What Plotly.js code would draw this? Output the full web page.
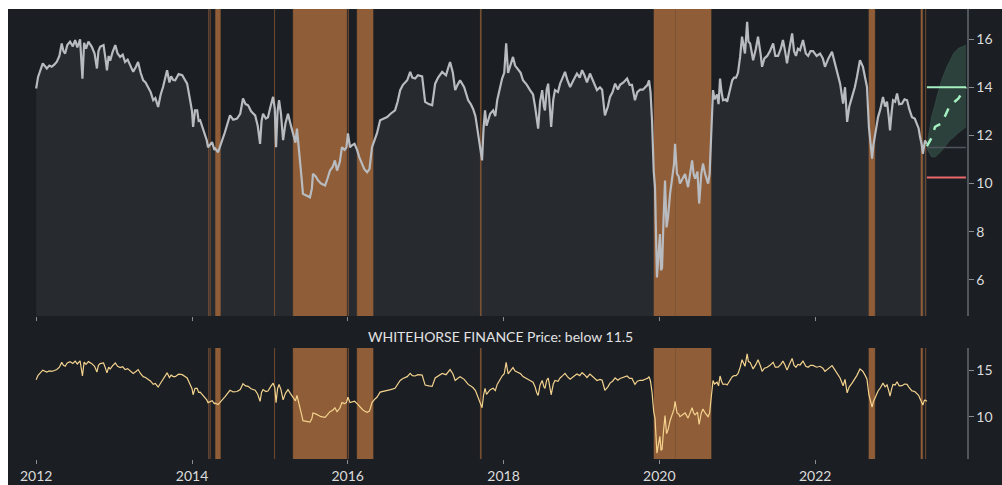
<!DOCTYPE html>
<html><head><meta charset="utf-8">
<script src="https://cdn.plot.ly/plotly-3.0.1.min.js"></script>
<style>html,body{margin:0;padding:0;background:#ffffff;overflow:hidden}#chart{position:absolute;left:8px;top:9px;width:1000px;height:480px}</style>
</head><body><div id="chart"></div>
<script>
// ---------- data (decimal years, price) ----------
const priceYear = [2012.000,2012.026,2012.086,2012.137,2012.170,2012.202,2012.235,2012.266,2012.300,2012.330,2012.350,2012.372,2012.400,2012.436,2012.470,2012.501,2012.530,2012.565,2012.594,2012.616,2012.640,2012.671,2012.715,2012.750,2012.779,2012.800,2012.822,2012.864,2012.890,2012.908,2012.930,2012.950,2012.980,2013.014,2013.045,2013.078,2013.110,2013.142,2013.175,2013.207,2013.245,2013.280,2013.309,2013.340,2013.374,2013.405,2013.438,2013.470,2013.502,2013.530,2013.566,2013.600,2013.630,2013.660,2013.682,2013.710,2013.733,2013.760,2013.784,2013.830,2013.874,2013.910,2013.938,2013.977,2014.000,2014.015,2014.040,2014.067,2014.085,2014.105,2014.140,2014.169,2014.190,2014.208,2014.235,2014.259,2014.290,2014.300,2014.336,2014.360,2014.388,2014.420,2014.452,2014.490,2014.530,2014.580,2014.620,2014.657,2014.690,2014.721,2014.760,2014.811,2014.845,2014.875,2014.895,2014.914,2014.950,2014.978,2015.010,2015.042,2015.065,2015.081,2015.100,2015.119,2015.145,2015.171,2015.200,2015.235,2015.265,2015.299,2015.330,2015.350,2015.370,2015.389,2015.410,2015.427,2015.470,2015.517,2015.540,2015.556,2015.590,2015.620,2015.660,2015.710,2015.740,2015.774,2015.810,2015.838,2015.864,2015.900,2015.928,2015.960,2015.985,2016.005,2016.031,2016.060,2016.090,2016.121,2016.150,2016.185,2016.215,2016.249,2016.280,2016.313,2016.350,2016.377,2016.416,2016.460,2016.506,2016.550,2016.608,2016.640,2016.673,2016.710,2016.763,2016.801,2016.830,2016.865,2016.900,2016.955,2016.994,2017.040,2017.083,2017.122,2017.160,2017.212,2017.263,2017.290,2017.315,2017.350,2017.379,2017.410,2017.443,2017.494,2017.546,2017.580,2017.610,2017.640,2017.674,2017.700,2017.725,2017.745,2017.764,2017.782,2017.802,2017.830,2017.867,2017.895,2017.918,2017.950,2017.982,2018.010,2018.033,2018.059,2018.090,2018.123,2018.150,2018.187,2018.220,2018.252,2018.300,2018.341,2018.380,2018.406,2018.425,2018.444,2018.470,2018.496,2018.520,2018.534,2018.555,2018.573,2018.590,2018.611,2018.640,2018.662,2018.700,2018.727,2018.760,2018.791,2018.820,2018.855,2018.900,2018.945,2018.980,2019.009,2019.040,2019.073,2019.112,2019.150,2019.202,2019.240,2019.266,2019.304,2019.340,2019.368,2019.400,2019.433,2019.470,2019.497,2019.540,2019.587,2019.620,2019.651,2019.689,2019.720,2019.754,2019.790,2019.818,2019.850,2019.869,2019.890,2019.908,2019.930,2019.946,2019.972,2019.990,2020.010,2020.023,2020.036,2020.055,2020.075,2020.095,2020.113,2020.140,2020.164,2020.190,2020.203,2020.228,2020.250,2020.267,2020.300,2020.331,2020.370,2020.400,2020.421,2020.440,2020.460,2020.490,2020.511,2020.540,2020.562,2020.590,2020.626,2020.645,2020.665,2020.691,2020.710,2020.742,2020.760,2020.780,2020.800,2020.819,2020.850,2020.870,2020.900,2020.935,2020.960,2020.986,2021.010,2021.037,2021.063,2021.085,2021.101,2021.127,2021.145,2021.166,2021.204,2021.240,2021.268,2021.300,2021.320,2021.350,2021.384,2021.420,2021.461,2021.490,2021.525,2021.560,2021.589,2021.615,2021.641,2021.670,2021.705,2021.730,2021.756,2021.780,2021.807,2021.846,2021.880,2021.910,2021.940,2021.974,2022.020,2022.064,2022.100,2022.128,2022.170,2022.218,2022.240,2022.257,2022.290,2022.321,2022.359,2022.385,2022.411,2022.440,2022.475,2022.510,2022.539,2022.578,2022.616,2022.645,2022.668,2022.693,2022.710,2022.732,2022.750,2022.770,2022.809,2022.840,2022.873,2022.900,2022.924,2022.950,2022.963,2022.985,2023.001,2023.030,2023.053,2023.080,2023.117,2023.150,2023.181,2023.210,2023.245,2023.280,2023.309,2023.330,2023.348,2023.370,2023.386,2023.400,2023.412,2023.438];
const priceValue = [13.95,14.43,14.99,14.78,14.90,14.85,14.95,15.06,15.30,15.82,15.50,15.40,15.75,15.89,15.70,15.96,15.65,15.99,14.36,15.85,15.60,15.90,15.68,15.40,14.78,15.50,15.68,15.75,15.20,14.70,15.30,15.10,15.45,15.75,15.40,15.26,15.35,15.05,15.15,14.92,14.64,14.85,15.05,14.60,14.29,14.20,14.01,13.80,13.46,13.55,13.18,13.70,14.01,14.40,14.71,14.20,14.45,14.30,14.29,14.55,14.50,14.30,14.15,13.46,13.00,12.35,13.04,13.04,12.60,12.63,12.30,12.08,11.80,11.51,11.60,11.72,11.40,11.45,11.30,11.50,11.79,12.10,12.42,12.83,12.65,12.70,12.90,13.53,13.30,13.25,13.00,12.83,12.40,11.65,12.60,12.90,12.70,12.75,13.20,13.60,13.10,11.51,13.00,13.46,12.90,11.80,12.50,12.90,12.50,12.08,11.70,12.28,11.60,10.96,10.20,9.58,9.50,9.43,9.80,10.40,10.30,10.13,10.00,9.92,10.20,10.54,10.70,10.96,10.54,10.90,11.51,11.40,11.50,12.08,11.51,11.60,11.65,11.40,11.10,10.83,10.60,10.47,10.60,11.51,11.90,12.08,12.63,12.70,12.76,12.90,13.04,13.40,13.88,14.10,14.29,14.64,14.40,14.36,14.50,14.45,13.39,13.30,13.25,14.15,14.40,14.64,14.50,14.80,15.05,14.60,13.88,14.10,14.29,14.00,13.46,13.30,13.10,12.80,12.08,11.50,10.96,12.30,13.04,12.40,12.60,12.90,13.04,12.80,13.46,13.90,14.36,14.60,15.82,14.60,14.90,15.26,14.90,14.71,14.60,14.29,14.10,13.88,13.70,13.18,12.60,12.28,13.40,13.88,13.20,13.04,13.90,14.15,13.40,12.35,13.50,13.88,13.80,14.15,14.40,14.64,14.30,14.01,14.30,14.57,14.40,14.71,14.50,14.20,14.57,14.30,13.88,14.00,13.90,12.83,13.20,13.60,13.80,14.15,13.90,14.10,14.20,14.36,14.10,14.10,13.46,13.80,13.90,13.90,14.01,14.10,14.29,13.80,12.63,10.50,9.85,6.10,7.00,7.90,6.40,6.50,8.50,10.13,8.18,8.60,9.60,10.13,10.80,11.65,10.40,10.30,10.00,10.20,10.40,9.85,10.50,10.96,10.40,10.20,10.50,9.17,10.40,10.83,10.40,10.00,10.40,11.80,13.88,13.50,13.70,13.30,14.36,13.80,13.46,13.50,13.40,13.80,14.29,14.40,14.40,14.60,15.26,16.10,15.60,15.40,16.72,15.90,15.82,15.12,15.60,16.10,15.40,14.85,15.20,15.30,15.50,15.82,15.30,15.30,15.60,15.96,15.50,14.99,15.60,16.24,15.50,15.30,15.60,15.54,15.96,15.40,15.30,15.50,15.50,15.30,15.40,15.20,14.85,15.20,15.47,15.20,14.99,14.60,14.15,13.32,14.00,12.56,13.20,13.60,14.00,14.43,15.12,14.85,14.40,14.01,12.35,11.60,11.03,11.60,12.07,12.76,13.10,13.60,13.20,13.40,12.70,12.21,13.00,13.46,13.40,13.74,13.30,13.32,13.50,13.46,13.10,12.76,12.70,12.49,12.30,11.93,11.60,11.24,11.70,11.79,11.65];

// periods where price was below the threshold
const bandStart = ['2014-03-20','2014-03-27','2014-04-21','2015-01-23','2015-04-20','2016-01-04','2016-02-14','2017-09-14','2019-12-07','2020-03-16','2022-09-10','2023-05-12','2023-06-03'];
const bandEnd   = ['2014-03-22','2014-03-29','2014-05-14','2015-01-25','2015-12-28','2016-01-07','2016-04-29','2017-09-18','2020-03-15','2020-08-31','2022-10-08','2023-05-20','2023-06-05'];

// forecast cone
const forecastYear   = [2023.438,2023.497,2023.540,2023.563,2023.626,2023.691,2023.733,2023.776,2023.840,2023.938];
const forecastMedian = [11.55,11.90,12.35,12.40,12.49,13.00,13.25,13.35,13.53,14.01];
const forecastUpper  = [11.60,12.80,13.30,13.60,14.30,14.85,15.10,15.40,15.62,15.75];
const forecastLower  = [11.45,11.10,11.10,11.15,11.35,11.60,11.80,11.90,12.10,12.35];

// reference levels
const upperTarget = 14.0;
const threshold = 11.5;
const lowerTarget = 10.25;

const subplotTitle = 'WHITEHORSE FINANCE Price: below 11.5';
const xTickYears = [2012,2014,2016,2018,2020,2022];

// ---------- helpers ----------
function yd(t){const y=Math.floor(t);const s=Date.UTC(y,0,1),e=Date.UTC(y+1,0,1);return new Date(s+(t-y)*(e-s)).toISOString().slice(0,10);}
const priceDate = priceYear.map(yd);
const fcDate = forecastYear.map(yd);

const topRange = [4.5, 17.25];
const botRange = [5.47, 17.36];
const xRange = [yd(2011.6406), yd(2023.951)];

const BG = '#1b1e23';
const BAND = '#8f5d37';
const traces = [];

// top: filled area under price
traces.push({x:priceDate,y:priceValue,xaxis:'x',yaxis:'y',type:'scatter',mode:'lines',fill:'tozeroy',fillcolor:'#272a2f',line:{width:0,color:'rgba(0,0,0,0)'},hoverinfo:'skip',showlegend:false});
// bands (top and bottom)
function addBands(xa,ya,rng){
  for(let i=0;i<bandStart.length;i++){
    traces.push({x:[bandStart[i],bandStart[i],bandEnd[i],bandEnd[i],bandStart[i]],y:[rng[0],rng[1],rng[1],rng[0],rng[0]],xaxis:xa,yaxis:ya,type:'scatter',mode:'lines',fill:'toself',fillcolor:BAND,line:{width:1,color:'rgba(143,93,55,0.45)'},hoverinfo:'skip',showlegend:false});
  }
}
addBands('x','y',topRange);
// price line top
traces.push({x:priceDate,y:priceValue,xaxis:'x',yaxis:'y',type:'scatter',mode:'lines',line:{color:'#b8bbbf',width:2.2},hoverinfo:'skip',showlegend:false});
// forecast cone
traces.push({x:fcDate,y:forecastLower,xaxis:'x',yaxis:'y',type:'scatter',mode:'lines',line:{width:0.5,color:'rgba(90,150,120,0.35)'},hoverinfo:'skip',showlegend:false});
traces.push({x:fcDate,y:forecastUpper,xaxis:'x',yaxis:'y',type:'scatter',mode:'lines',fill:'tonexty',fillcolor:'rgba(90,150,120,0.30)',line:{width:0.5,color:'rgba(90,150,120,0.35)'},hoverinfo:'skip',showlegend:false});
// level lines
const lvlX = [priceDate[priceDate.length-1], fcDate[fcDate.length-1]];
traces.push({x:lvlX,y:[threshold,threshold],xaxis:'x',yaxis:'y',type:'scatter',mode:'lines',line:{color:'#50555b',width:1.5},hoverinfo:'skip',showlegend:false});
traces.push({x:lvlX,y:[upperTarget,upperTarget],xaxis:'x',yaxis:'y',type:'scatter',mode:'lines',line:{color:'#a4f0c0',width:2},hoverinfo:'skip',showlegend:false});
traces.push({x:lvlX,y:[lowerTarget,lowerTarget],xaxis:'x',yaxis:'y',type:'scatter',mode:'lines',line:{color:'#e8696b',width:2},hoverinfo:'skip',showlegend:false});
traces.push({x:fcDate,y:forecastMedian,xaxis:'x',yaxis:'y',type:'scatter',mode:'lines',line:{color:'#a4f0c0',width:2.5,dash:'dash'},hoverinfo:'skip',showlegend:false});

// bottom
addBands('x2','y2',botRange);
traces.push({x:priceDate,y:priceValue,xaxis:'x2',yaxis:'y2',type:'scatter',mode:'lines',line:{color:'#f3d28e',width:1.2},hoverinfo:'skip',showlegend:false});

const tickFont = {family:'Lato, sans-serif',size:14,color:'#dcdcdc'};
const tickvals = xTickYears.map(y=>y+'-01-01');
const ticktext = xTickYears.map(String);
const layout = {
  width:1000,height:480,
  paper_bgcolor:BG,plot_bgcolor:BG,
  margin:{l:0,r:41,t:0,b:30},
  showlegend:false,
  font:tickFont,
  xaxis:{type:'date',range:xRange,domain:[0,1],anchor:'y',tickvals:tickvals,ticktext:ticktext,showticklabels:false,ticks:'outside',ticklen:4,tickcolor:'#8a8d92',showgrid:false,zeroline:false,showline:false},
  yaxis:{range:topRange,domain:[0.3178,1],side:'right',anchor:'x',dtick:2,tick0:0,ticks:'outside',ticklen:5,tickcolor:'#8a8d92',showline:true,linecolor:'#50565d',linewidth:1.5,showgrid:false,zeroline:false,tickfont:tickFont},
  xaxis2:{type:'date',range:xRange,domain:[0,1],anchor:'y2',tickvals:tickvals,ticktext:ticktext,ticks:'outside',ticklen:4,tickcolor:'#8a8d92',showgrid:false,zeroline:false,showline:false,tickfont:tickFont},
  yaxis2:{range:botRange,domain:[0,0.2467],side:'right',anchor:'x2',tickvals:[10,15],ticks:'outside',ticklen:5,tickcolor:'#8a8d92',showline:true,linecolor:'#50565d',linewidth:1.5,showgrid:false,zeroline:false,tickfont:tickFont},
  annotations:[{text:subplotTitle,xref:'paper',yref:'paper',x:0.514,y:0.273,xanchor:'center',yanchor:'middle',showarrow:false,font:{family:'Lato, sans-serif',size:14,color:'#e2e2e2'}}]
};
Plotly.newPlot('chart',traces,layout,{staticPlot:true,displayModeBar:false});
</script></body></html>
